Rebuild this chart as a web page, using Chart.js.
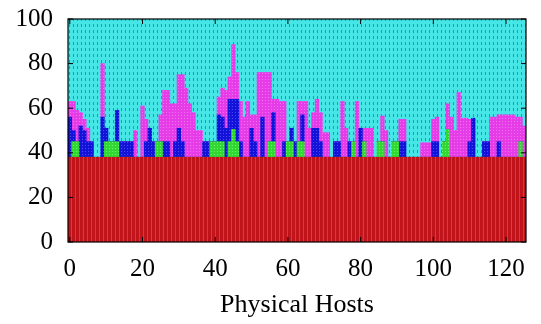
<!DOCTYPE html>
<html>
<head>
<meta charset="utf-8">
<script src="https://cdn.jsdelivr.net/npm/chart.js@4.4.1/dist/chart.umd.min.js"></script>
<style>
html,body{margin:0;padding:0;background:#fff;}
#c{display:block;}
</style>
</head>
<body>
<canvas id="c" width="541" height="324"></canvas>
<script>
// ---- data ----
const hosts = [0,1,2,3,4,5,6,7,8,9,10,11,12,13,14,15,16,17,18,19,20,21,22,23,24,25,26,27,28,29,30,31,32,33,34,35,36,37,38,39,40,41,42,43,44,45,46,47,48,49,50,51,52,53,54,55,56,57,58,59,60,61,62,63,64,65,66,67,68,69,70,71,72,73,74,75,76,77,78,79,80,81,82,83,84,85,86,87,88,89,90,91,92,93,94,95,96,97,98,99,100,101,102,103,104,105,106,107,108,109,110,111,112,113,114,115,116,117,118,119,120,121,122,123,124,125];
const xTickLabels = [0,20,40,60,80,100,120];
const yTickLabels = [0,20,40,60,80,100];

const red = [38,38,38,38,38,38,38,38,38,38,38,38,38,38,38,38,38,38,38,38,38,38,38,38,38,38,38,38,38,38,38,38,38,38,38,38,38,38,38,38,38,38,38,38,38,38,38,38,38,38,38,38,38,38,38,38,38,38,38,38,38,38,38,38,38,38,38,38,38,38,38,38,38,38,38,38,38,38,38,38,38,38,38,38,38,38,38,38,38,38,38,38,38,38,38,38,38,38,38,38,38,38,38,38,38,38,38,38,38,38,38,38,38,38,38,38,38,38,38,38,38,38,38,38,38,38];
const green = [
 0,7,7,0,0,0,0,0,0,0,  7,7,7,7,0,0,0,0,0,0,
 0,0,0,0,7,7,0,0,0,0,  0,0,0,0,0,0,0,0,0,7,
 7,7,7,0,7,12.5,7,0,0,0,  0,0,0,0,0,7,7,0,0,0,
 7,7,0,7,7,0,0,0,0,0,  0,0,0,0,0,0,0,0,7,0,
 0,7,0,0,0,7,7,0,0,7,  7,0,0,0,0,0,0,0,0,0,
 0,0,0,7,12.5,0,0,0,0,0,  0,0,0,0,0,0,0,0,0,0,
 0,0,0,0,7,0];
const blue = [
 18,5,0,14,12,7,7,0,0,18,  6,0,0,14,7,7,7,7,0,0,
 0,7,13,7,0,0,7,7,0,7,  13,7,0,0,0,0,0,7,7,0,
 0,12,11,13,19,13.5,19,7,0,0,  13,7,0,18,0,0,13,0,0,7,
 0,6,7,0,12,0,0,13,13,7,  0,0,0,7,7,0,0,7,0,0,
 13,0,0,0,0,0,0,0,0,0,  0,7,7,0,0,0,0,0,0,0,
 7,7,0,0,0,0,0,0,0,0,  7,17.5,0,0,7,7,0,0,7,0,
 0,0,0,0,0,0];
const magenta = [
 7,13,14,6,5,6,0,0,0,24,  0,0,0,0,0,0,0,0,12,0,
 23,10,0,0,0,12,23,23,24,17,  24,30,31,24,20,12,12,0,0,0,
 0,8,13,17,10,24.5,12,18,18,25,  6,12,38,20,38,31,6,26,25,18,
 0,0,0,18,6,25,13,7,13,13,  11,11,0,0,0,25,13,0,0,25,
 0,6,13,13,0,0,11.5,12,0,0,  0,10,10,0,0,0,0,6.5,6.5,6.5,
 10,11,0,0,11.5,18,12,29,17.5,17.5,  10,0,0,0,0,0,18,18,12,19,
 19,19,19,18,11,14];
const total = 100;

// ---- styles ----
function makePattern(bg, fg, w, h, draw) {
  const c = document.createElement('canvas');
  c.width = w; c.height = h;
  const g = c.getContext('2d');
  g.fillStyle = bg; g.fillRect(0, 0, w, h);
  g.fillStyle = fg; draw(g);
  return document.getElementById('c').getContext('2d').createPattern(c, 'repeat');
}
const cyanFill = makePattern('#46e6e6', '#1aa0aa', 4, 6, g => { g.fillRect(1, 0, 1, 3); });
const redFill = makePattern('#c0141a', '#d63a3a', 4, 4, g => { g.fillRect(3, 0, 1, 4); });
const magFill = makePattern('#e63ce8', '#f070f0', 3, 3, g => { g.fillRect(1, 1, 1, 1); });
const blueFill = makePattern('#1212d8', '#4a4af0', 3, 3, g => { g.fillRect(1, 1, 1, 1); });
const greenFill = makePattern('#32d832', '#70f070', 3, 3, g => { g.fillRect(1, 1, 1, 1); });

const cyan = hosts.map((_, i) => total - red[i] - green[i] - blue[i] - magenta[i]);

const serif = "'Liberation Serif', 'DejaVu Serif', serif";

const frame = {
  id: 'frame',
  afterDatasetsDraw(chart) {
    const {ctx, chartArea: a, scales} = chart;
    ctx.save();
    ctx.strokeStyle = '#000';
    ctx.lineWidth = 1.2;
    ctx.strokeRect(a.left, a.top, a.right - a.left, a.bottom - a.top);
    ctx.lineWidth = 1;
    const L = 5;
    yTickLabels.forEach(v => {
      const y = scales.y.getPixelForValue(v);
      ctx.beginPath();
      ctx.moveTo(a.left, y); ctx.lineTo(a.left + L, y);
      ctx.moveTo(a.right, y); ctx.lineTo(a.right - L, y);
      ctx.stroke();
    });
    xTickLabels.forEach(v => {
      const x = scales.x.getPixelForValue(hosts.indexOf(v));
      ctx.beginPath();
      ctx.moveTo(x, a.bottom); ctx.lineTo(x, a.bottom - L);
      ctx.moveTo(x, a.top); ctx.lineTo(x, a.top + L);
      ctx.stroke();
    });
    ctx.restore();
  }
};

new Chart(document.getElementById('c'), {
  type: 'bar',
  data: {
    labels: hosts,
    datasets: [
      {label: 'red', data: red, backgroundColor: redFill},
      {label: 'green', data: green, backgroundColor: greenFill},
      {label: 'blue', data: blue, backgroundColor: blueFill},
      {label: 'magenta', data: magenta, backgroundColor: magFill},
      {label: 'cyan', data: cyan, backgroundColor: cyanFill}
    ]
  },
  options: {
    responsive: false,
    animation: false,
    devicePixelRatio: 1,
    layout: {padding: {left: 0, right: 15, top: 19, bottom: 0}},
    datasets: {bar: {barPercentage: 1, categoryPercentage: 1, borderWidth: 0}},
    plugins: {legend: {display: false}, tooltip: {enabled: false}},
    scales: {
      x: {
        stacked: true,
        grid: {display: false, drawTicks: false},
        border: {display: false},
        ticks: {
          autoSkip: false, maxRotation: 0, minRotation: 0, padding: 12, color: '#000',
          font: {family: serif, size: 25},
          callback: function(v, i) { const h = hosts[i]; return xTickLabels.includes(h) ? String(h) : ''; }
        },
        title: {display: true, text: 'Physical Hosts', color: '#000', font: {family: serif, size: 26}, padding: {top: 0, bottom: 3}},
        afterFit(s) { s.height = 82; s.paddingLeft = 0; s.paddingRight = 0; }
      },
      y: {
        stacked: true, min: 0, max: 100,
        grid: {display: false, drawTicks: false},
        border: {display: false},
        ticks: {
          stepSize: 20, padding: 15, color: '#000',
          font: {family: serif, size: 25},
          callback: v => yTickLabels.includes(v) ? String(v) : ''
        },
        afterFit(s) { s.width = 68; s.paddingTop = 0; s.paddingBottom = 0; }
      }
    }
  },
  plugins: [frame]
});
</script>
</body>
</html>
